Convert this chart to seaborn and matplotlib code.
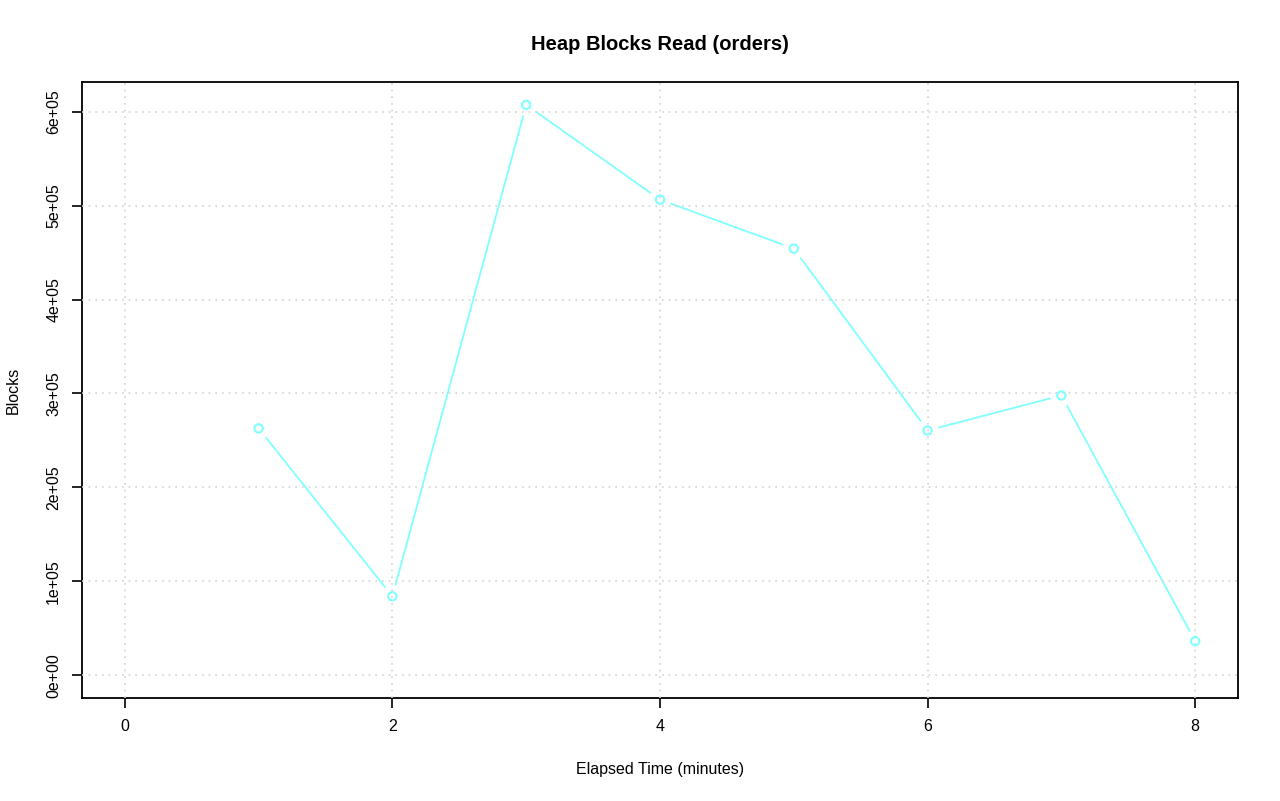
import numpy as np
import pandas as pd
import seaborn as sns
import matplotlib
matplotlib.use('Agg')
import matplotlib.pyplot as plt
from matplotlib.ticker import FuncFormatter

# Data
minutes = [1, 2, 3, 4, 5, 6, 7, 8]
blocks = [262800, 84000, 607400, 506400, 454300, 260600, 297900, 36200]

x_ticks = [0, 2, 4, 6, 8]
y_ticks = [0, 100000, 200000, 300000, 400000, 500000, 600000]

sns.set_style('white')
plt.rcParams['font.family'] = ['Liberation Sans', 'DejaVu Sans']
plt.rcParams['text.color'] = 'black'
plt.rcParams['axes.labelcolor'] = 'black'
plt.rcParams['xtick.color'] = 'black'
plt.rcParams['ytick.color'] = 'black'

df = pd.DataFrame({'minutes': minutes, 'blocks': blocks})
line_col = '#80FFFF'

fig = plt.figure(figsize=(12.8, 8.01), dpi=100)
ax = fig.add_axes([82 / 1280, 1 - 698 / 801, (1238 - 82) / 1280, (698 - 82) / 801])

# R style type="b": line with gaps around points
sns.lineplot(data=df, x='minutes', y='blocks', color=line_col, linewidth=1.3, ax=ax, zorder=1)
sns.scatterplot(data=df, x='minutes', y='blocks', s=260, color='white', edgecolor='none', ax=ax, zorder=2)
sns.scatterplot(data=df, x='minutes', y='blocks', s=36, facecolor='none', edgecolor=line_col,
                linewidth=1.5, ax=ax, zorder=3)

xr = 8 - 0
ax.set_xlim(0 - 0.04 * xr, 8 + 0.04 * xr)
ymax = max(blocks)
ax.set_ylim(-0.04 * ymax, ymax * 1.04)

ax.set_xticks(x_ticks)
ax.set_yticks(y_ticks)
ax.yaxis.set_major_formatter(FuncFormatter(lambda v, p: '%.0e' % v))
for t in ax.get_yticklabels():
    t.set_rotation(90)
    t.set_va('center')

ax.set_axisbelow(False)
ax.grid(True, color='lightgray', linestyle=(0, (1, 3)), linewidth=1.2, zorder=2.5)

for s in ax.spines.values():
    s.set_color('black')
    s.set_linewidth(1.3)

ax.tick_params(axis='both', direction='out', length=7, width=1.2, color='black',
               labelsize=11.5, pad=8, bottom=True, left=True)

ax.set_xlabel('Elapsed Time (minutes)', fontsize=11.5, labelpad=20)
ax.set_ylabel('Blocks', fontsize=11.5, labelpad=18)
ax.set_title('Heap Blocks Read (orders)', fontsize=14.5, fontweight='bold', pad=23)

fig.savefig('out.png', dpi=100)
